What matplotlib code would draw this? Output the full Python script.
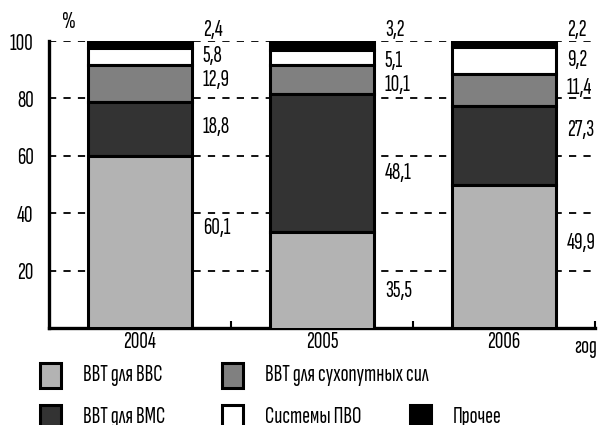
import matplotlib.pyplot as plt
from matplotlib.patches import Rectangle
from matplotlib import font_manager

names = {f.name for f in font_manager.fontManager.ttflist}
if 'Sofia Sans Extra Condensed' in names:
    plt.rcParams['font.family'] = ['Sofia Sans Extra Condensed', 'DejaVu Sans']
    fs = 17
else:
    plt.rcParams['font.family'] = ['Oswald', 'DejaVu Sans']
    fs = 12.5
plt.rcParams['font.weight'] = 'medium'

years = ['2004', '2005', '2006']
# segments bottom -> top
series = ['ВВТ для ВВС', 'ВВТ для ВМС', 'ВВТ для сухопутных сил', 'Системы ПВО', 'Прочее']
vvs = [60.1, 35.5, 49.9]
vmf = [18.8, 48.1, 27.3]
land = [12.9, 10.1, 11.4]
pvo = [5.8, 5.1, 9.2]
other = [2.4, 3.2, 2.2]
colors = ['#b3b3b3', '#333333', '#808080', '#ffffff', '#000000']

values = [vvs, vmf, land, pvo, other]

# where the value labels sit (per year, bottom -> top segment)
label_y = [[35, 70, 86.4, 94.6, 104],
           [13, 54, 84.7, 92.9, 104],
           [29.6, 69, 83.6, 93.4, 104]]

fig = plt.figure(figsize=(5.99, 4.25), dpi=100)
ax = fig.add_axes([49 / 599, 1 - 328 / 425, 546 / 599, 287 / 425])

x = range(len(years))
width = 0.57
# bars are stacked down from 100 % (as in the source)
for i in x:
    top = 100.0
    for k in range(len(series) - 1, -1, -1):
        v = values[k][i]
        bottom = top - v
        ax.bar(i, v, width, bottom=bottom, color=colors[k], edgecolor='black',
               linewidth=2.2, zorder=3)
        ax.text(i + width / 2 + 0.06, label_y[i][k], f'{v:.1f}'.replace('.', ','),
                fontsize=fs, va='center', ha='left', zorder=4)
        top = bottom

for y in [20, 40, 60, 80, 100]:
    ax.axhline(y, color='black', linestyle=(0, (4, 4)), linewidth=1.3, zorder=1)

ax.set_xlim(-0.5, 2.5)
ax.set_ylim(0, 100)
ax.spines['top'].set_visible(False)
ax.spines['right'].set_visible(False)
ax.spines['left'].set_linewidth(2.4)
ax.spines['bottom'].set_linewidth(2.4)
ax.set_yticks([20, 40, 60, 80, 100])
ax.set_yticklabels(['20', '40', '60', '80', '100'], fontsize=fs)
ax.tick_params(axis='y', length=0, pad=11)
ax.set_xticks(list(x))
ax.set_xticklabels(years, fontsize=fs)
ax.tick_params(axis='x', length=0, pad=2)
ax.set_xticks([0.5, 1.5, 2.5], minor=True)
ax.tick_params(axis='x', which='minor', direction='in', length=5, width=1.5)

fig.text(69 / 599, 1 - 22 / 425, '%', fontsize=fs, ha='center', va='center')
fig.text(586 / 599, 1 - 347 / 425, 'год', fontsize=fs, ha='center', va='center')

# legend drawn by hand
legend = [(0, 40, 0), (2, 222, 0), (1, 40, 1), (3, 222, 1), (4, 410, 1)]
for k, lx, row in legend:
    ytop = 363 + row * 42
    fig.patches.append(Rectangle((lx / 599, 1 - (ytop + 25) / 425), 21 / 599, 25 / 425,
                                 transform=fig.transFigure, facecolor=colors[k],
                                 edgecolor='black', linewidth=2.2))
    fig.text((lx + 43) / 599, 1 - (ytop + 12) / 425, series[k], fontsize=fs,
             ha='left', va='center')

fig.savefig('out.png', dpi=100)
